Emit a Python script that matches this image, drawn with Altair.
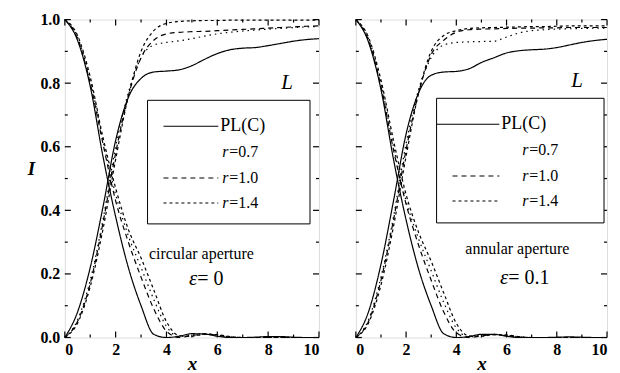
import altair as alt
import pandas as pd

# ---------------- data ----------------
X = [0, 0.5, 1, 1.5, 2, 2.5, 3, 3.5, 4, 4.5, 5, 5.5, 6, 6.5, 7, 7.5, 8, 8.5, 9, 9.5, 10]
SERIES = ["PL(C)", "r=0.7", "r=1.0", "r=1.4"]

# circular aperture, eps = 0  (descending I curves)
LD_PL = [1.0, 0.935, 0.79, 0.57, 0.38, 0.22, 0.10, 0.01, 0.0, 0.004, 0.012, 0.011, 0.004, 0.0, 0.0, 0.001, 0.003, 0.003, 0.001, 0.0, 0.0]
LD_07 = [1.0, 0.945, 0.81, 0.62, 0.45, 0.32, 0.22, 0.12, 0.035, 0.003, 0.008, 0.012, 0.008, 0.002, 0.0, 0.0, 0.0, 0.0, 0.0, 0.0, 0.0]
LD_10 = [1.0, 0.94, 0.80, 0.61, 0.43, 0.30, 0.19, 0.09, 0.02, 0.0, 0.006, 0.011, 0.007, 0.001, 0.0, 0.0, 0.0, 0.0, 0.0, 0.0, 0.0]
LD_14 = [1.0, 0.95, 0.82, 0.63, 0.47, 0.34, 0.25, 0.15, 0.05, 0.006, 0.004, 0.01, 0.009, 0.003, 0.0, 0.0, 0.0, 0.0, 0.0, 0.0, 0.0]
# circular aperture (ascending L curves)
LA_PL = [0.0, 0.08, 0.22, 0.41, 0.62, 0.755, 0.815, 0.835, 0.838, 0.842, 0.855, 0.875, 0.893, 0.905, 0.91, 0.912, 0.918, 0.925, 0.932, 0.937, 0.94]
LA_07 = [0.0, 0.055, 0.18, 0.37, 0.60, 0.77, 0.88, 0.92, 0.928, 0.933, 0.94, 0.948, 0.955, 0.96, 0.964, 0.967, 0.97, 0.972, 0.975, 0.977, 0.978]
LA_10 = [0.0, 0.05, 0.17, 0.36, 0.58, 0.76, 0.88, 0.935, 0.955, 0.96, 0.962, 0.963, 0.965, 0.967, 0.969, 0.971, 0.973, 0.975, 0.977, 0.979, 0.98]
LA_14 = [0.0, 0.045, 0.16, 0.34, 0.56, 0.76, 0.90, 0.965, 0.988, 0.994, 0.996, 0.997, 0.997, 0.998, 0.998, 0.998, 0.998, 0.998, 0.998, 0.998, 0.998]

# annular aperture, eps = 0.1
RD_PL = [1.0, 0.93, 0.78, 0.56, 0.37, 0.215, 0.10, 0.012, 0.0, 0.003, 0.01, 0.01, 0.004, 0.0, 0.0, 0.0, 0.001, 0.002, 0.001, 0.0, 0.0]
RD_07 = [1.0, 0.94, 0.80, 0.60, 0.43, 0.31, 0.21, 0.11, 0.03, 0.002, 0.007, 0.01, 0.007, 0.002, 0.0, 0.0, 0.0, 0.0, 0.0, 0.0, 0.0]
RD_10 = [1.0, 0.935, 0.79, 0.59, 0.42, 0.29, 0.18, 0.08, 0.015, 0.0, 0.005, 0.009, 0.006, 0.001, 0.0, 0.0, 0.0, 0.0, 0.0, 0.0, 0.0]
RD_14 = [1.0, 0.945, 0.81, 0.62, 0.45, 0.33, 0.24, 0.14, 0.045, 0.005, 0.004, 0.009, 0.008, 0.003, 0.0, 0.0, 0.0, 0.0, 0.0, 0.0, 0.0]
RA_PL = [0.0, 0.08, 0.23, 0.43, 0.64, 0.77, 0.825, 0.835, 0.837, 0.845, 0.865, 0.88, 0.895, 0.902, 0.905, 0.907, 0.912, 0.92, 0.928, 0.934, 0.938]
RA_07 = [0.0, 0.055, 0.19, 0.38, 0.61, 0.78, 0.88, 0.92, 0.928, 0.93, 0.931, 0.932, 0.945, 0.958, 0.965, 0.968, 0.97, 0.971, 0.972, 0.973, 0.973]
RA_10 = [0.0, 0.05, 0.18, 0.37, 0.59, 0.77, 0.89, 0.935, 0.96, 0.968, 0.97, 0.971, 0.972, 0.973, 0.973, 0.974, 0.974, 0.975, 0.975, 0.975, 0.975]
RA_14 = [0.0, 0.045, 0.165, 0.35, 0.57, 0.77, 0.90, 0.95, 0.965, 0.972, 0.974, 0.975, 0.976, 0.977, 0.978, 0.978, 0.979, 0.98, 0.98, 0.98, 0.98]

X_LABELS = [0, 2, 4, 6, 8, 10]
X_MINOR = [1, 3, 5, 7, 9]
Y_LABELS = [0.0, 0.2, 0.4, 0.6, 0.8, 1.0]
Y_MINOR = [0.1, 0.3, 0.5, 0.7, 0.9]

# ---------------- styles ----------------
DASHES = [[1, 0], [1.5, 4], [5, 4], [3, 3]]
SERIF = "Liberation Serif"
H = 319


def long_df(desc, asc):
    rows = []
    for s, d, a in zip(SERIES, desc, asc):
        for x, y in zip(X, d):
            rows.append({"x": x, "y": y, "series": s, "branch": "I"})
        for x, y in zip(X, a):
            rows.append({"x": x, "y": y, "series": s, "branch": "L"})
    return pd.DataFrame(rows)


def panel(df, W, show_y, box, sample_x, text_x, aper, aper_pos, eps, eps_pos, L_pos):
    xs = alt.Scale(domain=[0, 10], nice=False, zero=False)
    ys = alt.Scale(domain=[0, 1], nice=False, zero=False)
    if show_y:
        yaxis = alt.Axis(values=Y_LABELS, format=".1f", ticks=False, domain=False, grid=False,
                         labelFont=SERIF, labelFontWeight="bold", labelFontSize=16, labelPadding=5,
                         labelColor="black", title="I", titleFont=SERIF, titleFontStyle="italic",
                         titleFontWeight="bold", titleFontSize=19, titleAngle=0, titlePadding=9,
                         titleColor="black")
    else:
        yaxis = None
    xaxis = alt.Axis(values=X_LABELS, format="d", ticks=False, domain=False, grid=False,
                     labelFont=SERIF, labelFontWeight="bold", labelFontSize=16, labelPadding=4,
                     labelColor="black", title="x", titleFont=SERIF, titleFontStyle="italic",
                     titleFontWeight="bold", titleFontSize=19, titlePadding=-3, titleColor="black")

    def X_(field):
        return alt.X(field, scale=xs, axis=xaxis)

    def Y_(field):
        return alt.Y(field, scale=ys, axis=yaxis)

    lines = alt.Chart(df).mark_line(color="black", strokeWidth=1.2, interpolate="monotone").encode(
        x=X_("x:Q"),
        y=Y_("y:Q"),
        strokeDash=alt.StrokeDash("series:N", scale=alt.Scale(domain=SERIES, range=DASHES), legend=None),
        detail="branch:N",
    )

    layers = [lines]
    # inward ticks on all four sides
    for vals, ln in ((X_LABELS, 6), (X_MINOR, 3)):
        d = pd.DataFrame({"x": vals})
        layers.append(alt.Chart(d).mark_rule(color="black", strokeWidth=1.2).encode(
            x=X_("x:Q"), y=alt.value(H), y2=alt.value(H - ln)))
        layers.append(alt.Chart(d).mark_rule(color="black", strokeWidth=1.2).encode(
            x=X_("x:Q"), y=alt.value(0), y2=alt.value(ln)))
    for vals, ln in ((Y_LABELS, 6), (Y_MINOR, 3)):
        d = pd.DataFrame({"y": vals})
        layers.append(alt.Chart(d).mark_rule(color="black", strokeWidth=1.2).encode(
            y=Y_("y:Q"), x=alt.value(0), x2=alt.value(ln)))
        layers.append(alt.Chart(d).mark_rule(color="black", strokeWidth=1.2).encode(
            y=Y_("y:Q"), x=alt.value(W), x2=alt.value(W - ln)))

    one = pd.DataFrame({"a": [0]})
    # legend box
    bx0, by0, bx1, by1 = box
    layers.append(alt.Chart(one).mark_rect(fill="white", stroke="black", strokeWidth=1).encode(
        x=alt.value(bx0), x2=alt.value(bx1), y=alt.value(by0), y2=alt.value(by1)))
    rows_y = [by0 + 26, by0 + 52, by0 + 78, by0 + 103]
    for i, (s, dash) in enumerate(zip(SERIES, DASHES)):
        yy = rows_y[i]
        if s != "r=0.7":
            sx0 = sample_x[0] if s == "PL(C)" else sample_x[1]
            layers.append(alt.Chart(one).mark_rule(
                color="black", strokeWidth=1.1, strokeDash=dash).encode(
                x=alt.value(sx0), x2=alt.value(sample_x[2]), y=alt.value(yy)))
        if s == "PL(C)":
            layers.append(alt.Chart(one).mark_text(
                font=SERIF, fontSize=18, align="left", baseline="middle", color="black").encode(
                x=alt.value(text_x[0]), y=alt.value(yy), text=alt.value("PL(C)")))
        else:
            layers.append(alt.Chart(one).mark_text(
                font=SERIF, fontSize=16, fontStyle="italic", align="left", baseline="middle", color="black").encode(
                x=alt.value(text_x[1]), y=alt.value(yy), text=alt.value("r")))
            layers.append(alt.Chart(one).mark_text(
                font=SERIF, fontSize=16, align="left", baseline="middle", color="black").encode(
                x=alt.value(text_x[1] + 7), y=alt.value(yy), text=alt.value("=" + s.split("=")[1])))

    layers.append(alt.Chart(one).mark_text(
        font=SERIF, fontSize=16, align="center", baseline="middle", color="black").encode(
        x=alt.value(aper_pos[0]), y=alt.value(aper_pos[1]), text=alt.value(aper)))
    # epsilon label: italic epsilon + upright value
    layers.append(alt.Chart(one).mark_text(
        font=SERIF, fontSize=21, fontStyle="italic", align="right", baseline="middle", color="black").encode(
        x=alt.value(eps_pos[0]), y=alt.value(eps_pos[1]), text=alt.value("ε")))
    layers.append(alt.Chart(one).mark_text(
        font=SERIF, fontSize=20, align="left", baseline="middle", color="black").encode(
        x=alt.value(eps_pos[0]), y=alt.value(eps_pos[1]), text=alt.value(eps)))
    layers.append(alt.Chart(one).mark_text(
        font=SERIF, fontSize=21, fontStyle="italic", align="center", baseline="middle", color="black").encode(
        x=alt.value(L_pos[0]), y=alt.value(L_pos[1]), text=alt.value("L")))

    return alt.layer(*layers).properties(width=W, height=H)


left = panel(long_df([LD_PL, LD_07, LD_10, LD_14], [LA_PL, LA_07, LA_10, LA_14]), 255, True,
             (83, 81, 246, 205), (99, 99, 154), (156, 158),
             "circular aperture", (137, 235), "= 0", (133, 260), (223, 64))
right = panel(long_df([RD_PL, RD_07, RD_10, RD_14], [RA_PL, RA_07, RA_10, RA_14]), 252, False,
              (81, 79, 249, 204), (81, 97, 144), (146, 167),
              "annular aperture", (162, 230), "= 0.1", (153, 259), (222, 62))

chart = alt.hconcat(left, right, spacing=37, bounds="flush").properties(
    padding={"left": 18, "top": 2, "right": 2, "bottom": 0}
).configure_view(stroke="black", strokeWidth=1.5).configure(background="white")

chart.save("out.html", embed_options={"renderer": "svg", "actions": False})
